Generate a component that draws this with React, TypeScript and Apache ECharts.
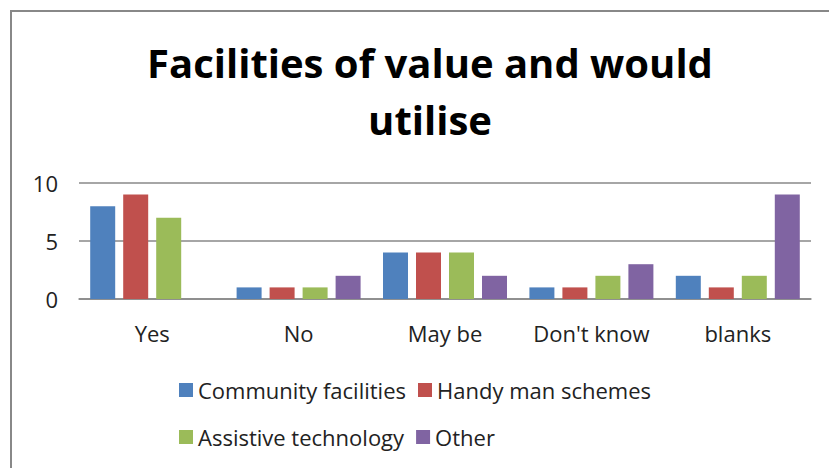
import React, { useEffect, useRef } from "react";
import * as echarts from "echarts";

const categories = ["Yes", "No", "May be", "Don't know", "blanks"];
const seriesNames = ["Community facilities", "Handy man schemes", "Assistive technology", "Other"];
const communityFacilities = [8, 1, 4, 1, 2];
const handyManSchemes = [9, 1, 4, 1, 1];
const assistiveTechnology = [7, 1, 4, 2, 2];
const other = [0, 2, 2, 3, 9];
const colors = ["#4F81BD", "#C0504D", "#9BBB59", "#8064A2"];
const titleText = "Facilities of value and would\nutilise";

export default function App() {
  const ref = useRef<HTMLDivElement>(null);
  useEffect(() => {
    if (!ref.current) return;
    const chart = echarts.init(ref.current, null, { renderer: "svg" });
    const font = "'Open Sans', sans-serif";
    const values = [communityFacilities, handyManSchemes, assistiveTechnology, other];
    chart.setOption({
      animation: false,
      backgroundColor: "#ffffff",
      color: colors,
      textStyle: { fontFamily: font },
      title: {
        text: titleText,
        left: "425",
        textAlign: "center",
        top: 29,
        textStyle: {
          fontFamily: font,
          fontSize: 40,
          fontWeight: "bold",
          color: "#000000",
          lineHeight: 57,
        },
      },
      graphic: [
        {
          type: "rect",
          shape: { x: 11, y: 11, width: 840, height: 480 },
          style: { fill: "none", stroke: "#888888", lineWidth: 2 },
          silent: true,
        },
      ],
      legend: [
        {
          data: [seriesNames[0], seriesNames[1]],
          left: 174,
          top: 374,
          itemWidth: 14,
          itemHeight: 14,
          itemGap: 12,
          icon: "rect",
          textStyle: { fontFamily: font, fontSize: 22, color: "#222222" },
        },
        {
          data: [seriesNames[2], seriesNames[3]],
          left: 174,
          top: 421,
          itemWidth: 14,
          itemHeight: 14,
          itemGap: 12,
          icon: "rect",
          textStyle: { fontFamily: font, fontSize: 22, color: "#222222" },
        },
      ],
      grid: { left: 79, right: 18, top: 183, height: 116, containLabel: false },
      xAxis: {
        type: "category",
        data: categories,
        axisLine: { show: true, lineStyle: { color: "#888888", width: 1.5 } },
        axisTick: { show: false },
        axisLabel: {
          interval: 0,
          hideOverlap: false,
          fontFamily: font,
          fontSize: 22,
          color: "#222222",
          margin: 23,
        },
      },
      yAxis: {
        type: "value",
        min: 0,
        max: 10,
        interval: 5,
        axisLine: { show: false },
        axisTick: { show: false },
        axisLabel: { fontFamily: font, fontSize: 22, color: "#222222", margin: 21 },
        splitLine: { lineStyle: { color: "#888888", width: 1.5 } },
      },
      series: seriesNames.map((name, i) => ({
        name,
        type: "bar",
        data: values[i],
        barWidth: 25,
        barGap: "32%",
        itemStyle: { color: colors[i] },
      })),
    });
    return () => chart.dispose();
  }, []);
  return (
    <div
      ref={ref}
      style={{ position: "fixed", left: 0, top: 0, width: 829, height: 468 }}
    />
  );
}
